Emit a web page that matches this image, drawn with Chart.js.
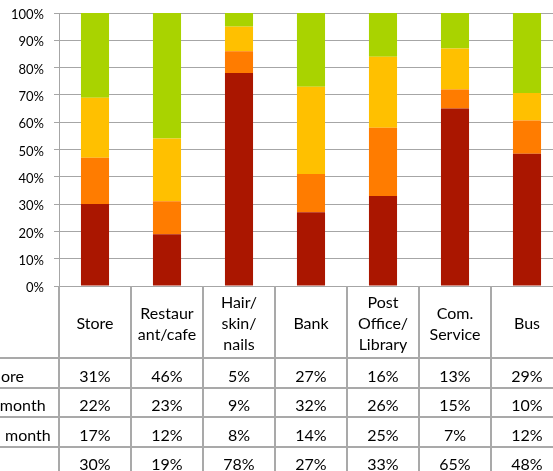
<!DOCTYPE html>
<html>
<head>
<meta charset="utf-8">
<script src="https://cdn.jsdelivr.net/npm/chart.js@4"></script>
<style>
  html, body { margin: 0; padding: 0; width: 553px; height: 471px; overflow: hidden; background: #fff; }
  #c { position: absolute; left: -140px; top: 0; }
</style>
</head>
<body>
<canvas id="c" width="703" height="471"></canvas>
<script>
// Places / services, one column each (header lines as wrapped in the table)
const categories = [
  ['Store'],
  ['Restaur', 'ant/cafe'],
  ['Hair/', 'skin/', 'nails'],
  ['Bank'],
  ['Post', 'Office/', 'Library'],
  ['Com.', 'Service'],
  ['Bus']
];

// How often each place is used (percent of respondents)
const weeklyOrMore    = [31, 46, 5, 27, 16, 13, 29];
const severalPerMonth = [22, 23, 9, 32, 26, 15, 10];
const lessThanMonthly = [17, 12, 8, 14, 25, 7, 12];
const never           = [30, 19, 78, 27, 33, 65, 48];

// Table rows, top to bottom
const rowNames  = ['Weekly or more', 'Several times a month', 'Less than once a month', 'Never'];
const rowValues = [weeklyOrMore, severalPerMonth, lessThanMonthly, never];
const rowColors = ['#a9d300', '#ffc000', '#ff7c00', '#aa1600'];

// Value axis ticks
const yTickValues = [0, 10, 20, 30, 40, 50, 60, 70, 80, 90, 100];

// 100% stacking: each column is scaled by its own total
const totals = categories.map((_, i) => rowValues.reduce((s, r) => s + r[i], 0));
const share = arr => arr.map((v, i) => v / totals[i] * 100);

const FONT = 'Lato, "Open Sans", sans-serif';
const LINE = '#a6a6a6';
const TABLE_LINE = '#a9a9a9';

// Data table drawn under the plot area
const dataTable = {
  id: 'dataTable',
  afterDraw(chart) {
    const ctx = chart.ctx;
    const area = chart.chartArea;
    const n = categories.length;
    const colW = (area.right - area.left) / n;
    const top = Math.round(area.bottom);
    const headerH = 72;
    const rowH = 29.5;
    const labelW = 182;
    const labelLeft = area.left - labelW;
    const bottom = chart.height;

    ctx.save();
    ctx.strokeStyle = TABLE_LINE;
    ctx.lineWidth = 2;

    // column dividers
    for (let i = 0; i <= n; i++) {
      const x = Math.round(area.left + i * colW);
      ctx.beginPath();
      ctx.moveTo(x, top);
      ctx.lineTo(x, bottom);
      ctx.stroke();
    }
    // row-header column outer edge
    ctx.beginPath();
    ctx.moveTo(labelLeft, top + headerH);
    ctx.lineTo(labelLeft, bottom);
    ctx.stroke();

    // row separators
    for (let r = 0; r < rowNames.length; r++) {
      const y = Math.round(top + headerH + r * rowH);
      ctx.beginPath();
      ctx.moveTo(labelLeft, y);
      ctx.lineTo(area.right + 2, y);
      ctx.stroke();
    }

    ctx.fillStyle = '#000';
    ctx.font = '16px ' + FONT;
    ctx.textAlign = 'center';
    ctx.textBaseline = 'alphabetic';

    // column headers
    categories.forEach((lines, i) => {
      const cx = area.left + (i + 0.5) * colW;
      lines.forEach((t, k) => {
        const y = top + 43 + (k - (lines.length - 1) / 2) * 21;
        ctx.fillText(t, cx, y);
      });
    });

    // rows: legend key, name and values
    rowNames.forEach((name, r) => {
      const rowTop = top + headerH + r * rowH;
      const base = rowTop + 23.5;
      ctx.fillStyle = rowColors[r];
      ctx.fillRect(labelLeft + 6, rowTop + 10, 10, 10);
      ctx.fillStyle = '#000';
      ctx.fillText(name, labelLeft + labelW / 2, base);
      rowValues[r].forEach((v, i) => {
        ctx.fillText(v + '%', area.left + (i + 0.5) * colW, base);
      });
    });
    ctx.restore();
  }
};

function draw() {
  Chart.defaults.font.family = FONT;
  Chart.defaults.color = '#000';

  new Chart(document.getElementById('c'), {
    type: 'bar',
    data: {
      labels: categories,
      datasets: [
        { label: rowNames[3], data: share(never),           backgroundColor: rowColors[3] },
        { label: rowNames[2], data: share(lessThanMonthly), backgroundColor: rowColors[2] },
        { label: rowNames[1], data: share(severalPerMonth), backgroundColor: rowColors[1] },
        { label: rowNames[0], data: share(weeklyOrMore),    backgroundColor: rowColors[0] }
      ]
    },
    options: {
      responsive: false,
      animation: false,
      devicePixelRatio: 1,
      layout: { padding: { top: 13, bottom: 185, left: 0, right: 0 } },
      datasets: { bar: { barPercentage: 0.39, categoryPercentage: 1, borderWidth: 0 } },
      plugins: { legend: { display: false }, tooltip: { enabled: false } },
      scales: {
        x: { stacked: true, display: false },
        y: {
          stacked: true,
          min: 0,
          max: 100,
          afterBuildTicks: s => { s.ticks = yTickValues.map(v => ({ value: v })); },
          afterFit: s => {
            s.width = 199;
            s.paddingTop = 0;
            s.paddingBottom = 0;
          },
          grid: { color: LINE, lineWidth: 1, tickLength: 5, drawTicks: true },
          border: { display: true, color: LINE, width: 1 },
          ticks: {
            padding: 10,
            labelOffset: 2,
            font: { size: 13 },
            color: '#000',
            callback: v => v + '%'
          }
        }
      }
    },
    plugins: [dataTable]
  });
}

if (document.fonts && document.fonts.load) {
  document.fonts.load('16px Lato').then(draw, draw);
} else {
  draw();
}
</script>
</body>
</html>
